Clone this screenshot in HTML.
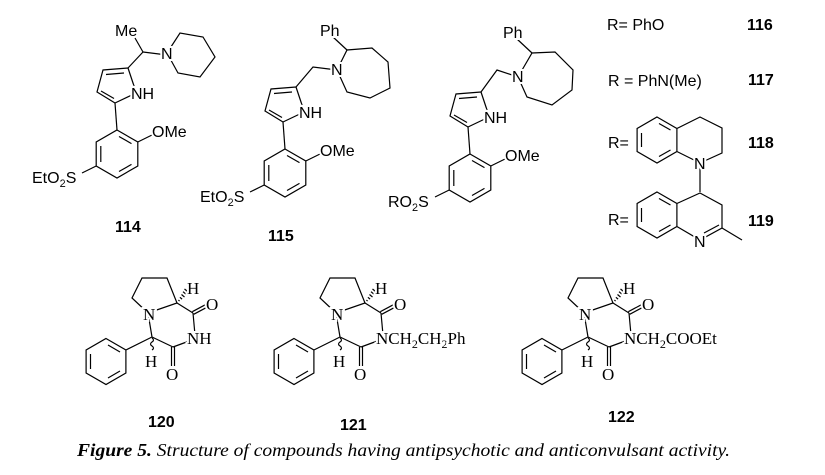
<!DOCTYPE html>
<html><head><meta charset="utf-8"><style>
html,body{margin:0;padding:0;background:#fff}
svg{display:block}
.s{font-family:"Liberation Sans",Arial,sans-serif;font-size:16px}
.b{font-family:"Liberation Sans",Arial,sans-serif;font-size:16px;font-weight:bold}
.t{font-family:"Liberation Serif","Times New Roman",serif;font-size:17px}
text{paint-order:stroke;stroke:#fff;stroke-width:4px;fill:#000}
line,polyline,polygon,path{stroke:#000;stroke-width:1.2;fill:none}
</style></head><body>
<svg width="825" height="475" viewBox="0 0 825 475" xmlns="http://www.w3.org/2000/svg">
<rect width="825" height="475" fill="#fff"/>

<g>
<line x1="135" y1="38" x2="143" y2="52"/>
<line x1="143" y1="52" x2="167" y2="55"/>
<polyline points="167,53 180,33 203,37 215,57 200,77 178,73 167,53"/>
<line x1="143" y1="52" x2="128" y2="68"/>
<text class="s" x="115" y="36" stroke-width="0">Me</text>
<text class="s" x="161" y="59">N</text>
</g>
<g>
<polyline points="128,68 103,70 97,92 115,103"/>
<line x1="128" y1="68" x2="136" y2="92"/>
<line x1="115" y1="103" x2="136" y2="93"/>
<line x1="106" y1="74.5" x2="124" y2="73"/>
<line x1="101" y1="91" x2="114" y2="98.5"/>
<line x1="115" y1="103" x2="117" y2="130"/>
<polygon points="117,130 137.8,142 137.8,166 117,178 96.2,166 96.2,142"/>
<line x1="100.8" y1="146" x2="100.8" y2="162"/>
<line x1="119" y1="136.5" x2="131.5" y2="143.6"/>
<line x1="119" y1="171.5" x2="131.5" y2="164.4"/>
<line x1="137.8" y1="142" x2="152" y2="135"/>
<line x1="96.2" y1="166" x2="82" y2="173"/>
<text class="s" x="131" y="99">NH</text>
<text class="s" x="152" y="137">OMe</text>
<text class="s" x="32" y="183">EtO<tspan font-size="11" dy="4">2</tspan><tspan dy="-4">S</tspan></text>
</g>
<text class="b" x="115" y="232">114</text>

<line x1="333" y1="37" x2="347" y2="50"/>
<polyline points="337,70 347,50 372,48 388,62 390,88 370,98 347,92 337,70"/>
<polyline points="296,87 313,67 337,70"/>
<text class="s" x="320" y="36" stroke-width="0">Ph</text>
<text class="s" x="331" y="75">N</text>
<g transform="translate(168,19)">
<polyline points="128,68 103,70 97,92 115,103"/>
<line x1="128" y1="68" x2="136" y2="92"/>
<line x1="115" y1="103" x2="136" y2="93"/>
<line x1="106" y1="74.5" x2="124" y2="73"/>
<line x1="101" y1="91" x2="114" y2="98.5"/>
<line x1="115" y1="103" x2="117" y2="130"/>
<polygon points="117,130 137.8,142 137.8,166 117,178 96.2,166 96.2,142"/>
<line x1="100.8" y1="146" x2="100.8" y2="162"/>
<line x1="119" y1="136.5" x2="131.5" y2="143.6"/>
<line x1="119" y1="171.5" x2="131.5" y2="164.4"/>
<line x1="137.8" y1="142" x2="152" y2="135"/>
<line x1="96.2" y1="166" x2="82" y2="173"/>
<text class="s" x="131" y="99">NH</text>
<text class="s" x="152" y="137">OMe</text>
<text class="s" x="32" y="183">EtO<tspan font-size="11" dy="4">2</tspan><tspan dy="-4">S</tspan></text>
</g>
<text class="b" x="268" y="241">115</text>

<line x1="517" y1="39" x2="532" y2="53"/>
<polyline points="518,77 532,53 555,52 573,70 572,90 552,105 527,97 518,77"/>
<polyline points="481,92 497,70 518,77"/>
<text class="s" x="503" y="38" stroke-width="0">Ph</text>
<text class="s" x="512" y="82">N</text>
<g transform="translate(353,24)">
<polyline points="128,68 103,70 97,92 115,103"/>
<line x1="128" y1="68" x2="136" y2="92"/>
<line x1="115" y1="103" x2="136" y2="93"/>
<line x1="106" y1="74.5" x2="124" y2="73"/>
<line x1="101" y1="91" x2="114" y2="98.5"/>
<line x1="115" y1="103" x2="117" y2="130"/>
<polygon points="117,130 137.8,142 137.8,166 117,178 96.2,166 96.2,142"/>
<line x1="100.8" y1="146" x2="100.8" y2="162"/>
<line x1="119" y1="136.5" x2="131.5" y2="143.6"/>
<line x1="119" y1="171.5" x2="131.5" y2="164.4"/>
<line x1="137.8" y1="142" x2="152" y2="135"/>
<line x1="96.2" y1="166" x2="82" y2="173"/>
<text class="s" x="131" y="99">NH</text>
<text class="s" x="152" y="137">OMe</text>
<text class="s" x="35" y="183">RO<tspan font-size="11" dy="4">2</tspan><tspan dy="-4">S</tspan></text>
</g>

<text class="s" x="607" y="30">R= PhO</text>
<text class="b" x="747" y="30">116</text>
<text class="s" x="608" y="86">R = PhN(Me)</text>
<text class="b" x="748" y="85">117</text>

<polygon points="657,117 676.9,128.5 676.9,151.5 657,163 637.1,151.5 637.1,128.5"/>
<line x1="641.5" y1="133" x2="641.5" y2="147"/>
<line x1="659" y1="123.5" x2="670.5" y2="130"/>
<line x1="659" y1="156.5" x2="670.5" y2="150"/>
<polyline points="676.9,128.5 700,117 722,128 722,153 700,163 676.9,151.5"/>
<line x1="700" y1="163" x2="700" y2="192"/>
<text class="s" x="608" y="148">R=</text>
<text class="s" x="694" y="169">N</text>
<text class="b" x="748" y="148">118</text>

<polygon points="657,192 676.9,203.5 676.9,226.5 657,238 637.1,226.5 637.1,203.5"/>
<line x1="641.5" y1="208" x2="641.5" y2="222"/>
<line x1="659" y1="198.5" x2="670.5" y2="205"/>
<line x1="659" y1="231.5" x2="670.5" y2="225"/>
<polyline points="676.9,203.5 700,193 722,205 722,228 700,240 676.9,226.5"/>
<line x1="719" y1="225" x2="704" y2="233"/>
<line x1="722" y1="228" x2="742" y2="240"/>
<text class="s" x="608" y="225">R=</text>
<text class="s" x="694" y="247">N</text>
<text class="b" x="748" y="226">119</text>

<g>
<polyline points="148,313 132,298 142,278 167,278 177,303 148,313"/>
<line x1="177" y1="303" x2="193" y2="313"/>
<line x1="192.3" y1="311.7" x2="207.3" y2="303.7"/>
<line x1="193.7" y1="314.3" x2="208.7" y2="306.3"/>
<line x1="193" y1="313" x2="195" y2="335"/>
<line x1="192" y1="340" x2="173" y2="347"/>
<line x1="171.5" y1="347" x2="171.5" y2="366"/>
<line x1="174.5" y1="347" x2="174.5" y2="366"/>
<line x1="173" y1="347" x2="152" y2="337"/>
<line x1="148" y1="313" x2="152" y2="337"/>
<line x1="152" y1="337" x2="125.9" y2="350"/>
<path d="M152,338 q3,2 0,4 q-3,2 0,4 q3,2 0,4"/>
<line x1="178.4" y1="300.1" x2="179.6" y2="301.1"/>
<line x1="179.9" y1="297.3" x2="182.1" y2="299.1"/>
<line x1="181.5" y1="294.5" x2="184.5" y2="297.1"/>
<line x1="183" y1="291.7" x2="187" y2="295.1"/>
<line x1="184.5" y1="289" x2="189.5" y2="293"/>
<polygon points="106,338.5 125.9,350 125.9,373 106,384.5 86.1,373 86.1,350"/>
<line x1="90.5" y1="354" x2="90.5" y2="369"/>
<line x1="108" y1="345" x2="120" y2="352"/>
<line x1="108" y1="378" x2="120" y2="371"/>
<text class="t" x="143" y="320">N</text>
<text class="t" x="187" y="294" stroke-width="0">H</text>
<text class="t" x="206" y="310">O</text>
<text class="t" x="166" y="380">O</text>
<text class="t" x="145" y="367" stroke-width="0">H</text>
</g>
<text class="t" x="187" y="344">NH</text>
<text class="b" x="148" y="427">120</text>

<g transform="translate(188,0)">
<polyline points="148,313 132,298 142,278 167,278 177,303 148,313"/>
<line x1="177" y1="303" x2="193" y2="313"/>
<line x1="192.3" y1="311.7" x2="207.3" y2="303.7"/>
<line x1="193.7" y1="314.3" x2="208.7" y2="306.3"/>
<line x1="193" y1="313" x2="195" y2="335"/>
<line x1="192" y1="340" x2="173" y2="347"/>
<line x1="171.5" y1="347" x2="171.5" y2="366"/>
<line x1="174.5" y1="347" x2="174.5" y2="366"/>
<line x1="173" y1="347" x2="152" y2="337"/>
<line x1="148" y1="313" x2="152" y2="337"/>
<line x1="152" y1="337" x2="125.9" y2="350"/>
<path d="M152,338 q3,2 0,4 q-3,2 0,4 q3,2 0,4"/>
<line x1="178.4" y1="300.1" x2="179.6" y2="301.1"/>
<line x1="179.9" y1="297.3" x2="182.1" y2="299.1"/>
<line x1="181.5" y1="294.5" x2="184.5" y2="297.1"/>
<line x1="183" y1="291.7" x2="187" y2="295.1"/>
<line x1="184.5" y1="289" x2="189.5" y2="293"/>
<polygon points="106,338.5 125.9,350 125.9,373 106,384.5 86.1,373 86.1,350"/>
<line x1="90.5" y1="354" x2="90.5" y2="369"/>
<line x1="108" y1="345" x2="120" y2="352"/>
<line x1="108" y1="378" x2="120" y2="371"/>
<text class="t" x="143" y="320">N</text>
<text class="t" x="187" y="294" stroke-width="0">H</text>
<text class="t" x="206" y="310">O</text>
<text class="t" x="166" y="380">O</text>
<text class="t" x="145" y="367" stroke-width="0">H</text>
<text class="t" x="188" y="344">NCH<tspan font-size="12" dy="4">2</tspan><tspan dy="-4">CH</tspan><tspan font-size="12" dy="4">2</tspan><tspan dy="-4">Ph</tspan></text>
</g>
<text class="b" x="340" y="430">121</text>

<g transform="translate(436,0)">
<polyline points="148,313 132,298 142,278 167,278 177,303 148,313"/>
<line x1="177" y1="303" x2="193" y2="313"/>
<line x1="192.3" y1="311.7" x2="207.3" y2="303.7"/>
<line x1="193.7" y1="314.3" x2="208.7" y2="306.3"/>
<line x1="193" y1="313" x2="195" y2="335"/>
<line x1="192" y1="340" x2="173" y2="347"/>
<line x1="171.5" y1="347" x2="171.5" y2="366"/>
<line x1="174.5" y1="347" x2="174.5" y2="366"/>
<line x1="173" y1="347" x2="152" y2="337"/>
<line x1="148" y1="313" x2="152" y2="337"/>
<line x1="152" y1="337" x2="125.9" y2="350"/>
<path d="M152,338 q3,2 0,4 q-3,2 0,4 q3,2 0,4"/>
<line x1="178.4" y1="300.1" x2="179.6" y2="301.1"/>
<line x1="179.9" y1="297.3" x2="182.1" y2="299.1"/>
<line x1="181.5" y1="294.5" x2="184.5" y2="297.1"/>
<line x1="183" y1="291.7" x2="187" y2="295.1"/>
<line x1="184.5" y1="289" x2="189.5" y2="293"/>
<polygon points="106,338.5 125.9,350 125.9,373 106,384.5 86.1,373 86.1,350"/>
<line x1="90.5" y1="354" x2="90.5" y2="369"/>
<line x1="108" y1="345" x2="120" y2="352"/>
<line x1="108" y1="378" x2="120" y2="371"/>
<text class="t" x="143" y="320">N</text>
<text class="t" x="187" y="294" stroke-width="0">H</text>
<text class="t" x="206" y="310">O</text>
<text class="t" x="166" y="380">O</text>
<text class="t" x="145" y="367" stroke-width="0">H</text>
<text class="t" x="188" y="344">NCH<tspan font-size="12" dy="4">2</tspan><tspan dy="-4">COOEt</tspan></text>
</g>
<text class="b" x="608" y="422">122</text>

<text x="77" y="456" textLength="653" lengthAdjust="spacingAndGlyphs" stroke-width="0" style="font-family:'Liberation Serif','Times New Roman',serif;font-size:18px;font-style:italic"><tspan font-weight="bold">Figure 5.</tspan> Structure of compounds having antipsychotic and anticonvulsant activity.</text>
</svg>
</body></html>
